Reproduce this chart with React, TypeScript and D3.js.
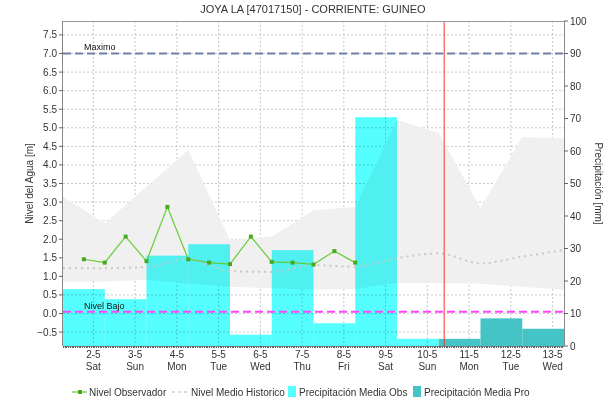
import React from "react";
import * as d3 from "d3";

const title = "JOYA LA [47017150] - CORRIENTE: GUINEO";
const dayLabels = ["2-5", "3-5", "4-5", "5-5", "6-5", "7-5", "8-5", "9-5", "10-5", "11-5", "12-5", "13-5"];
const weekdayLabels = ["Sat", "Sun", "Mon", "Tue", "Wed", "Thu", "Fri", "Sat", "Sun", "Mon", "Tue", "Wed"];

// precipitation (mm), obs for days 0..8, forecast for days 9..11
const precipObsDays = [0, 1, 2, 3, 4, 5, 6, 7, 8];
const precipObs = [17.5, 14.4, 27.8, 31.3, 3.5, 29.5, 7.0, 70.4, 2.2];
const precipProDays = [9, 10, 11];
const precipPro = [2.2, 8.5, 5.3];

// observed level (m) every 12 hours (time in days)
const obsTimes = [0.5, 1, 1.5, 2, 2.5, 3, 3.5, 4, 4.5, 5, 5.5, 6, 6.5, 7];
const obsLevel = [1.46, 1.37, 2.07, 1.41, 2.87, 1.46, 1.37, 1.33, 2.07, 1.39, 1.37, 1.32, 1.68, 1.37];

// historic band and mean (time in days)
const histTimes = [0, 1, 2, 3, 4, 5, 6, 7, 8, 9, 10, 11, 12];
const histMean = [1.22, 1.22, 1.25, 1.47, 1.14, 1.12, 1.3, 1.26, 1.49, 1.62, 1.35, 1.53, 1.71];
const histMax = [3.15, 2.43, 3.42, 4.4, 1.98, 2.07, 2.78, 2.87, 5.21, 4.86, 2.84, 4.75, 4.72];
const histMin = [0.86, 0.86, 0.9, 0.8, 0.72, 0.68, 0.64, 0.66, 0.82, 0.82, 0.8, 0.72, 0.63];

const nivelMaximo = 7.0;
const nivelBajo = 0.05;
const nowTime = 9.13;
const tickOffset = 0.727;

const W = 613;
const H = 401;
const L = 63, R = 564, T = 21, B = 346;
const FONT = "'Liberation Sans', Arial, sans-serif";
const TXT = "#333";

export default function App() {
  const x = d3.scaleLinear().domain([0, 12]).range([L, R]);
  const yL = d3.scaleLinear().domain([-0.875, 7.875]).range([B, T]);
  const yR = d3.scaleLinear().domain([0, 100]).range([B, T]);

  const leftTicks = d3.range(-0.5, 7.51, 0.5);
  const rightTicks = yR.ticks(10);
  const xTicks = dayLabels.map((_, i) => i + tickOffset);
  const minorTicks = d3.range(0, 12, 1 / 24);

  const band = histTimes.map((t, i) => ({ t, lo: histMin[i], hi: histMax[i] }));
  const areaPath = d3.area<any>().x(d => x(d.t)).y0(d => yL(d.lo)).y1(d => yL(d.hi))(band) || "";
  const meanPath = d3.line<number>().x((_, i) => x(histTimes[i])).y(d => yL(d)).curve(d3.curveMonotoneX)(histMean) || "";
  const obsPath = d3.line<number>().x((_, i) => x(obsTimes[i])).y(d => yL(d))(obsLevel) || "";

  return (
    <svg width={W} height={H} style={{ position: "absolute", left: 0, top: 0, background: "#fff" }} fontFamily={FONT}>
      <rect x={0} y={0} width={W} height={H} fill="#fff" />
      <text x={313} y={13} textAnchor="middle" fontSize={11} fill={TXT}>{title}</text>

      {/* grid */}
      {leftTicks.map(v => (
        <line key={"hg" + v} x1={L} x2={R} y1={yL(v)} y2={yL(v)} stroke="#c8c8c8" strokeDasharray="2,2" />
      ))}
      {xTicks.map(v => (
        <line key={"vg" + v} x1={x(v)} x2={x(v)} y1={T} y2={B} stroke="#c8c8c8" strokeDasharray="2,2" />
      ))}

      {/* historic band */}
      <path d={areaPath} fill="#f0f0f0" />

      {/* precip bars */}
      {precipObs.map((v, i) => (
        <rect key={"po" + i} x={x(precipObsDays[i])} width={x(precipObsDays[i] + 1) - x(precipObsDays[i])}
          y={yR(v)} height={yR(0) - yR(v)} fill="#55ffff" style={{ mixBlendMode: "multiply" }} />
      ))}
      {precipPro.map((v, i) => (
        <rect key={"pp" + i} x={x(precipProDays[i])} width={x(precipProDays[i] + 1) - x(precipProDays[i])}
          y={yR(v)} height={yR(0) - yR(v)} fill="#44c4c4" />
      ))}

      {/* mean historic */}
      <path d={meanPath} fill="none" stroke="#c8c8c8" strokeWidth={2} strokeDasharray="2,4" />

      {/* reference lines */}
      <line x1={L} x2={R} y1={yL(nivelMaximo)} y2={yL(nivelMaximo)} stroke="#7080a8" strokeWidth={2} strokeDasharray="8,4" />
      <text x={84} y={yL(nivelMaximo) - 4} fontSize={9} fill="#111">Maximo</text>
      <line x1={L} x2={R} y1={yL(nivelBajo)} y2={yL(nivelBajo)} stroke="#ff44ff" strokeWidth={2} strokeDasharray="8,4" />
      <text x={84} y={yL(nivelBajo) - 3} fontSize={9} fill="#111">Nivel Bajo</text>

      {/* observed level */}
      <path d={obsPath} fill="none" stroke="#66cc33" strokeWidth={1.2} />
      {obsLevel.map((v, i) => (
        <rect key={"m" + i} x={x(obsTimes[i]) - 2} y={yL(v) - 2} width={4} height={4} fill="#44aa22" />
      ))}

      {/* now line */}
      <line x1={x(nowTime)} x2={x(nowTime)} y1={T} y2={B} stroke="#ff3333" strokeWidth={1} />

      {/* frame */}
      <line x1={L} x2={R} y1={T + 0.5} y2={T + 0.5} stroke="#999" />
      <line x1={L - 0.5} x2={L - 0.5} y1={T} y2={B} stroke="#888" />
      <line x1={R + 0.5} x2={R + 0.5} y1={T} y2={B} stroke="#888" />
      <line x1={L} x2={R} y1={B + 0.5} y2={B + 0.5} stroke="#888" />
      {minorTicks.map((v, i) => (
        <line key={"mt" + i} x1={Math.round(x(v)) + 0.5} x2={Math.round(x(v)) + 0.5} y1={B} y2={B + 2} stroke="#666" />
      ))}

      {/* left axis */}
      {leftTicks.map(v => (
        <g key={"lt" + v}>
          <line x1={L - 4} x2={L} y1={yL(v)} y2={yL(v)} stroke="#666" />
          <text x={L - 6} y={yL(v) + 3.5} textAnchor="end" fontSize={10} fill={TXT}>{d3.format(".1f")(v)}</text>
        </g>
      ))}
      <text transform={`translate(33,${(T + B) / 2}) rotate(-90)`} textAnchor="middle" fontSize={10} fill={TXT}>Nivel del Agua [m]</text>

      {/* right axis */}
      {rightTicks.map(v => (
        <g key={"rt" + v}>
          <line x1={R} x2={R + 4} y1={yR(v)} y2={yR(v)} stroke="#666" />
          <text x={R + 6} y={yR(v) + 3.5} textAnchor="start" fontSize={10} fill={TXT}>{v}</text>
        </g>
      ))}
      <text transform={`translate(595,${(T + B) / 2}) rotate(90)`} textAnchor="middle" fontSize={10} fill={TXT}>Precipitación [mm]</text>

      {/* x axis labels */}
      {xTicks.map((v, i) => (
        <g key={"xt" + i}>
          <text x={x(v)} y={358} textAnchor="middle" fontSize={10} fill={TXT}>{dayLabels[i]}</text>
          <text x={x(v)} y={370} textAnchor="middle" fontSize={10} fill={TXT}>{weekdayLabels[i]}</text>
        </g>
      ))}

      {/* legend */}
      <g fontSize={10} fill={TXT}>
        <line x1={72} x2={87} y1={392} y2={392} stroke="#66cc33" strokeWidth={1.2} />
        <rect x={78} y={390} width={4} height={4} fill="#44aa22" />
        <text x={89} y={396}>Nivel Observador</text>
        <line x1={172} x2={187} y1={392} y2={392} stroke="#d0d0d0" strokeWidth={1.5} strokeDasharray="3,3" />
        <text x={191} y={396}>Nivel Medio Historico</text>
        <rect x={288} y={386} width={8} height={11} fill="#55ffff" />
        <text x={299} y={396}>Precipitación Media Obs</text>
        <rect x={413} y={386} width={8} height={11} fill="#44c4c4" />
        <text x={424} y={396}>Precipitación Media Pro</text>
      </g>
    </svg>
  );
}
